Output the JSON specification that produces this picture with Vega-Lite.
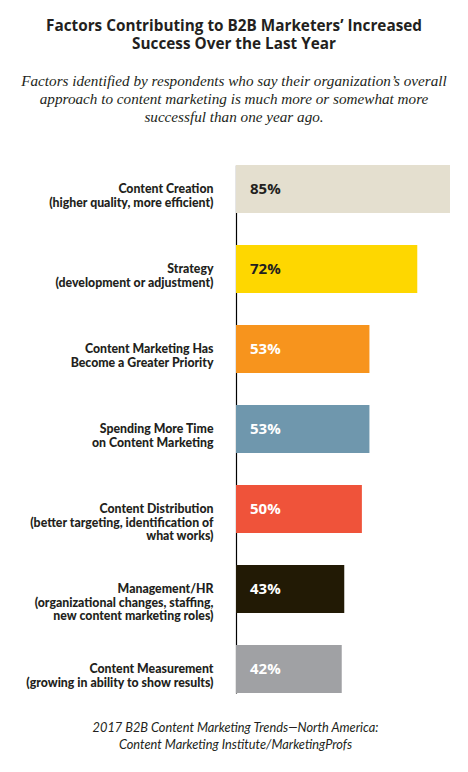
{
  "$schema": "https://vega.github.io/schema/vega-lite/v6.json",
  "autosize": "none",
  "padding": {"left": 236, "top": 165, "right": 18, "bottom": 79},
  "width": 214,
  "height": 528,
  "background": "white",
  "title": {
    "text": ["Factors Contributing to B2B Marketers’ Increased", "Success Over the Last Year"],
    "subtitle": ["Factors identified by respondents who say their organization’s overall", "approach to content marketing is much more or somewhat more", "successful than one year ago."],
    "anchor": "middle",
    "frame": "group",
    "dx": -109,
    "offset": 40,
    "font": "Open Sans",
    "fontSize": 15.3,
    "fontWeight": "bold",
    "lineHeight": 18,
    "color": "#231f20",
    "subtitleFont": "Liberation Serif",
    "subtitleFontStyle": "italic",
    "subtitleFontSize": 15.2,
    "subtitleLineHeight": 18,
    "subtitleColor": "#231f20",
    "subtitlePadding": 22
  },
  "data": {
    "values": [
      {"factor": "Content Creation|(higher quality, more efficient)", "pct": 0.85},
      {"factor": "Strategy|(development or adjustment)", "pct": 0.72},
      {"factor": "Content Marketing Has|Become a Greater Priority", "pct": 0.53},
      {"factor": "Spending More Time|on Content Marketing", "pct": 0.53},
      {"factor": "Content Distribution|(better targeting, identification of|what works)", "pct": 0.50},
      {"factor": "Management/HR|(organizational changes, staffing,|new content marketing roles)", "pct": 0.43},
      {"factor": "Content Measurement|(growing in ability to show results)", "pct": 0.42}
    ]
  },
  "encoding": {
    "y": {
      "field": "factor",
      "type": "nominal",
      "sort": null,
      "scale": {"paddingInner": 0.4, "paddingOuter": 0},
      "axis": {
        "title": null,
        "domain": true,
        "domainColor": "#000000",
        "domainWidth": 1.2,
        "ticks": false,
        "labelExpr": "split(datum.label, '|')",
        "labelFont": "Lato",
        "labelFontWeight": 900,
        "labelFontSize": 12.3,
        "labelLineHeight": 13.5,
        "labelColor": "#231f20",
        "labelPadding": 23,
        "labelLimit": 0,
        "labelAlign": "right",
        "labelBaseline": "middle"
      }
    }
  },
  "layer": [
    {
      "mark": {"type": "bar"},
      "encoding": {
        "x": {
          "field": "pct",
          "type": "quantitative",
          "scale": {"domain": [0, 0.85], "nice": false},
          "axis": {
            "orient": "bottom",
            "domain": false,
            "ticks": false,
            "labels": false,
            "grid": false,
            "title": ["2017 B2B Content Marketing Trends—North America:", "Content Marketing Institute/MarketingProfs"],
            "titleFont": "Lato",
            "titleFontStyle": "italic",
            "titleFontWeight": "normal",
            "titleFontSize": 12.8,
            "titleLineHeight": 17,
            "titleColor": "#231f20",
            "titleX": -1,
            "titleY": 38,
            "titleAlign": "center",
            "titleBaseline": "alphabetic"
          }
        },
        "color": {
          "field": "factor",
          "type": "nominal",
          "legend": null,
          "scale": {
            "domain": [
              "Content Creation|(higher quality, more efficient)",
              "Strategy|(development or adjustment)",
              "Content Marketing Has|Become a Greater Priority",
              "Spending More Time|on Content Marketing",
              "Content Distribution|(better targeting, identification of|what works)",
              "Management/HR|(organizational changes, staffing,|new content marketing roles)",
              "Content Measurement|(growing in ability to show results)"
            ],
            "range": ["#e4dfcf", "#fed700", "#f7941d", "#6f97ad", "#ef533a", "#221a05", "#a0a1a4"]
          }
        }
      }
    },
    {
      "mark": {"type": "text", "align": "left", "baseline": "middle", "dx": 14, "font": "Open Sans", "fontWeight": "bold", "fontSize": 15},
      "encoding": {
        "x": {"datum": 0, "type": "quantitative"},
        "text": {"field": "pct", "type": "quantitative", "format": ".0%"},
        "color": {"condition": {"test": "datum.pct > 0.6", "value": "#231f20"}, "value": "#ffffff"}
      }
    }
  ],
  "config": {"view": {"stroke": null}}
}
